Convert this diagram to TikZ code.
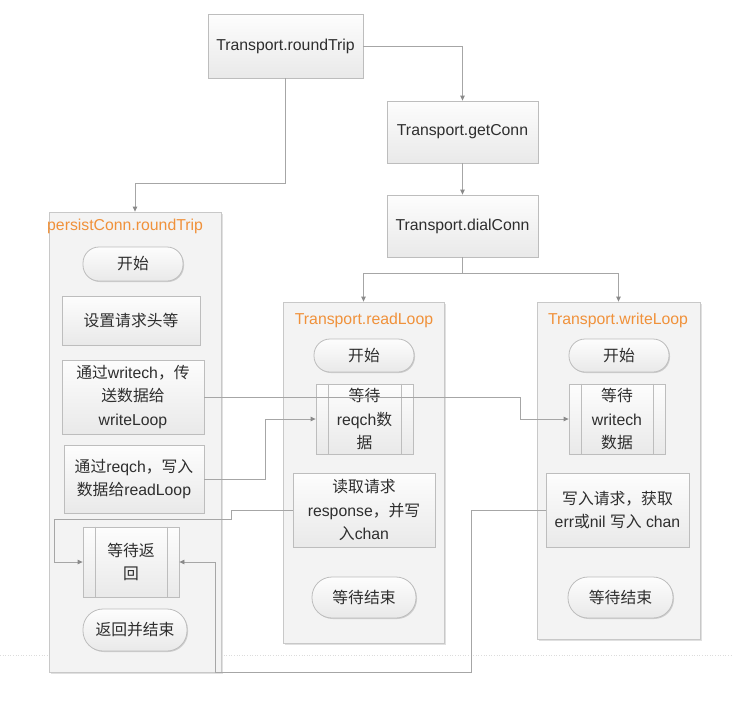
\documentclass[tikz,border=0pt]{standalone}
\usepackage{fontspec}
\setmainfont{Liberation Sans}
\newfontfamily\cjkfont{Noto Sans CJK SC}
\newcommand\zh[1]{{\cjkfont #1}}
\usetikzlibrary{arrows.meta,shadows}
\definecolor{txt}{HTML}{2E2E2E}
\definecolor{boxborder}{HTML}{BDBDBD}
\definecolor{boxtop}{HTML}{FDFDFD}
\definecolor{boxbot}{HTML}{E9E9E9}
\definecolor{contfill}{HTML}{F3F3F3}
\definecolor{contborder}{HTML}{C8C8C8}
\definecolor{conncol}{HTML}{A6A6A6}
\definecolor{tipcol}{HTML}{8A8A8A}
\definecolor{ttl}{HTML}{F0913A}
\definecolor{pagebrk}{HTML}{DCDCDC}
\begin{document}
\begin{tikzpicture}[x=1pt,y=-1pt,
  font=\fontsize{15.8}{23.5}\selectfont,
  boxbase/.style={draw=boxborder, line width=0.8pt, top color=boxtop, bottom color=boxbot,
    align=center, inner sep=0pt, text=txt,
    drop shadow={shadow xshift=1pt,shadow yshift=-1pt,opacity=0.15,fill=black}},
  procbox/.style={boxbase, rectangle},
  pill/.style={boxbase, rectangle, rounded corners=16pt},
  container/.style={draw=contborder, line width=0.8pt, fill=contfill, inner sep=0pt,
    drop shadow={shadow xshift=1.5pt,shadow yshift=-1.5pt,opacity=0.12,fill=black}},
  title/.style={text=ttl, inner sep=0pt},
  sideline/.style={draw=boxborder, line width=0.8pt},
  conn/.style={draw=conncol, line width=0.8pt, -{Triangle[length=5pt,width=4.5pt,fill=tipcol,color=tipcol]}},
  pagebreak/.style={draw=pagebrk, line width=0.6pt, dotted}
]
\useasboundingbox[fill=white] (0,0) rectangle (732,702);

% page break line
\draw[pagebreak] (0,655) -- (732,655);

% containers
\node[container, minimum width=172pt, minimum height=460pt] (pc) at (135,442) {};
\node[container, minimum width=161pt, minimum height=341pt] (rl) at (363.5,472.5) {};
\node[container, minimum width=163pt, minimum height=337pt] (wl) at (618.5,470.5) {};

\node[title, anchor=west] (pct) at (47,226) {persistConn.roundTrip};
\node[title] (rlt) at (364,320) {Transport.readLoop};
\node[title] (wlt) at (618,320) {Transport.writeLoop};

% top chain
\node[procbox, minimum width=155pt, minimum height=64pt] (rt) at (285.5,46) {Transport.roundTrip};
\node[procbox, minimum width=151pt, minimum height=62pt] (gc) at (462.5,132) {Transport.getConn};
\node[procbox, minimum width=151pt, minimum height=62pt] (dc) at (462.5,226) {Transport.dialConn};

% persistConn column
\node[pill, minimum width=100pt, minimum height=34pt] (pstart) at (133,264) {\zh{开始}};
\node[procbox, minimum width=138pt, minimum height=49pt] (hdr) at (131,320.5) {\zh{设置请求头等}};
\node[procbox, minimum width=142pt, minimum height=74pt] (wch) at (133,397) {\zh{通过}writech\zh{，传}\\\zh{送数据给}\\writeLoop};
\node[procbox, minimum width=140pt, minimum height=68pt] (rch) at (134,479) {\zh{通过}reqch\zh{，写入}\\\zh{数据给}readLoop};
\node[procbox, minimum width=96pt, minimum height=70pt] (wait) at (131,562) {\zh{等待返}\\\zh{回}};
\node[pill, minimum width=104pt, minimum height=42pt, rounded corners=20pt] (pend) at (135,630) {\zh{返回并结束}};

% readLoop column
\node[pill, minimum width=100pt, minimum height=33pt] (rstart) at (364,355.5) {\zh{开始}};
\node[procbox, minimum width=97pt, minimum height=70pt] (rwait) at (364.5,419) {\zh{等待}\\reqch\zh{数}\\\zh{据}};
\node[procbox, minimum width=142pt, minimum height=74pt] (rread) at (364,510) {\zh{读取请求}\\response\zh{，并写}\\\zh{入}chan};
\node[pill, minimum width=104pt, minimum height=41pt, rounded corners=20pt] (rend) at (364,597.5) {\zh{等待结束}};

% writeLoop column
\node[pill, minimum width=100pt, minimum height=33pt] (wstart) at (619,355.5) {\zh{开始}};
\node[procbox, minimum width=96pt, minimum height=70pt] (wwait) at (617,419) {\zh{等待}\\writech\\\zh{数据}};
\node[procbox, minimum width=143pt, minimum height=74pt] (wwrite) at (617.5,510) {\zh{写入请求，获取}\\err\zh{或}nil \zh{写入} chan};
\node[pill, minimum width=105pt, minimum height=41pt, rounded corners=20pt] (wend) at (620.5,597.5) {\zh{等待结束}};

% predefined-process side lines
\foreach \n in {wait,rwait,wwait}{
  \draw[sideline] ([xshift=13pt]\n.north west) -- ([xshift=13pt]\n.south west);
  \draw[sideline] ([xshift=-12pt]\n.north east) -- ([xshift=-12pt]\n.south east);
}

% connectors
\draw[conn] (rt.south) -- ++(0,105) -| (pc.north);
\draw[conn] (rt.east) -| (gc.north);
\draw[conn] (gc.south) -- (dc.north);
\draw[conn] (dc.south) -- ++(0,16) -| (rl.north);
\draw[conn] (dc.south) -- ++(0,16) -| (wl.north);
\draw[conn] (wch.east) -- ++(316,0) |- (wwait.west);
\draw[conn] (rch.east) -- ++(61,0) |- (rwait.west);
\draw[conn] (rread.west) -- ++(-61,0) -- ++(0,9) -- ++(-177,0) |- (wait.west);
\draw[conn] (wwrite.west) -- ++(-74,0) -- ++(0,162) -- ++(-256,0) |- (wait.east);
\end{tikzpicture}
\end{document}
